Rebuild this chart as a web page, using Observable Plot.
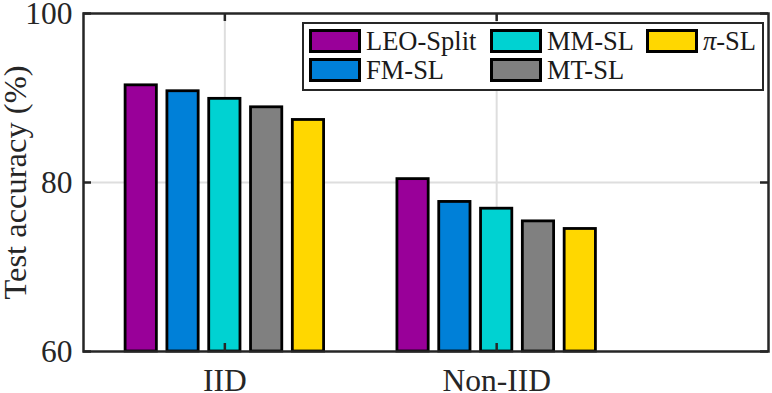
<!DOCTYPE html>
<html><head><meta charset="utf-8">
<script src="https://cdn.jsdelivr.net/npm/d3@7"></script>
<script src="https://cdn.jsdelivr.net/npm/@observablehq/plot@0.6"></script>
<style>
html,body{margin:0;padding:0;background:#fff;}
#wrap{position:relative;width:772px;height:393px;font-family:"Liberation Serif","Times New Roman",Times,serif;}
#wrap svg{display:block;}
#wrap svg text{font-family:"Liberation Serif","Times New Roman",Times,serif;}
#legend{position:absolute;left:302px;top:22px;width:462px;height:69px;box-sizing:border-box;border:2.5px solid #262626;background:#fff;display:grid;grid-template-columns:181px 156px auto;grid-template-rows:29.5px 29.5px;grid-auto-flow:column;padding:4.5px 0 0 4.5px;font-size:26.5px;color:#1a1a1a;}
.item{display:flex;align-items:flex-start;}
.sw{width:52px;height:24px;box-sizing:border-box;border:3px solid #000;margin-right:5.5px;flex:none;}
.lab{line-height:24px;white-space:nowrap;}
</style></head><body><div id="wrap"></div>
<script>
const groups = ["IID", "Non-IID"];
const methods = ["LEO-Split", "FM-SL", "MM-SL", "MT-SL", "π-SL"];
const colors = ["#990099", "#0080d8", "#00d2d2", "#808080", "#ffd700"];
const iidAccuracy = [91.5, 90.8, 89.9, 88.9, 87.4];
const nonIidAccuracy = [80.4, 77.7, 76.9, 75.4, 74.5];
const yTicks = [60, 80, 100];
const xTicks = [1, 2];

const W = 772, H = 393, mL = 83, mR = 4, mT = 13, mB = 42;
const fw = W - mL - mR, fh = H - mT - mB;
const pitch = 0.1538, barW = 0.115;
const series = [iidAccuracy, nonIidAccuracy];
const bars = [];
groups.forEach((g, gi) => methods.forEach((m, mi) => {
  const c = gi + 1 + (mi - 2) * pitch;
  bars.push({group: g, method: m, x1: c - barW / 2, x2: c + barW / 2, value: series[gi][mi]});
}));

const ink = "#262626";
const serif = "'Liberation Serif', 'Times New Roman', Times, serif";
const chart = Plot.plot({
  width: W, height: H,
  marginLeft: mL, marginRight: mR, marginTop: mT, marginBottom: mB,
  style: {fontFamily: serif, fontSize: "31px", color: ink, background: "white", overflow: "visible"},
  x: {domain: [0.48, 3.0]},
  y: {domain: [60, 100]},
  color: {domain: methods, range: colors},
  marks: [
    Plot.gridY([80], {stroke: "#dedede", strokeOpacity: 1, strokeWidth: 2}),
    Plot.gridX(xTicks, {stroke: "#dedede", strokeOpacity: 1, strokeWidth: 2}),
    Plot.rect(bars, {x1: "x1", x2: "x2", y1: 60, y2: "value", fill: "method", stroke: "black", strokeWidth: 2.8}),
    Plot.tickY(yTicks, {stroke: ink, strokeWidth: 2.5, insetRight: fw - 8}),
    Plot.tickY(yTicks, {stroke: ink, strokeWidth: 2.5, insetLeft: fw - 8}),
    Plot.tickX(xTicks, {stroke: ink, strokeWidth: 2.5, insetBottom: fh - 8}),
    Plot.tickX(xTicks, {stroke: ink, strokeWidth: 2.5, insetTop: fh - 8}),
    Plot.axisY(yTicks, {tickSize: 0, tickPadding: 11, fontSize: 31.5, tickFormat: d => String(d), label: null, fill: ink}),
    Plot.axisY(yTicks, {tickSize: 0, tickFormat: () => "", fontSize: 32.5, label: "Test accuracy (%)", labelAnchor: "center", labelArrow: "none", labelOffset: 81, fill: ink}),
    Plot.axisX(xTicks, {tickSize: 0, tickPadding: 17.5, fontSize: 31.5, tickFormat: d => groups[d - 1], label: null, fill: ink}),
    Plot.frame({stroke: ink, strokeWidth: 2.5})
  ]
});
const wrap = document.getElementById("wrap");
wrap.appendChild(chart);

const legend = document.createElement("div");
legend.id = "legend";
methods.forEach((m, i) => {
  const item = document.createElement("div");
  item.className = "item";
  const sw = document.createElement("div");
  sw.className = "sw";
  sw.style.background = colors[i];
  const lab = document.createElement("span");
  lab.className = "lab";
  if (m.startsWith("π")) {
    const it = document.createElement("i");
    it.textContent = "π";
    lab.appendChild(it);
    lab.appendChild(document.createTextNode(m.slice(1)));
  } else lab.textContent = m;
  item.appendChild(sw);
  item.appendChild(lab);
  legend.appendChild(item);
});
wrap.appendChild(legend);
</script></body></html>
